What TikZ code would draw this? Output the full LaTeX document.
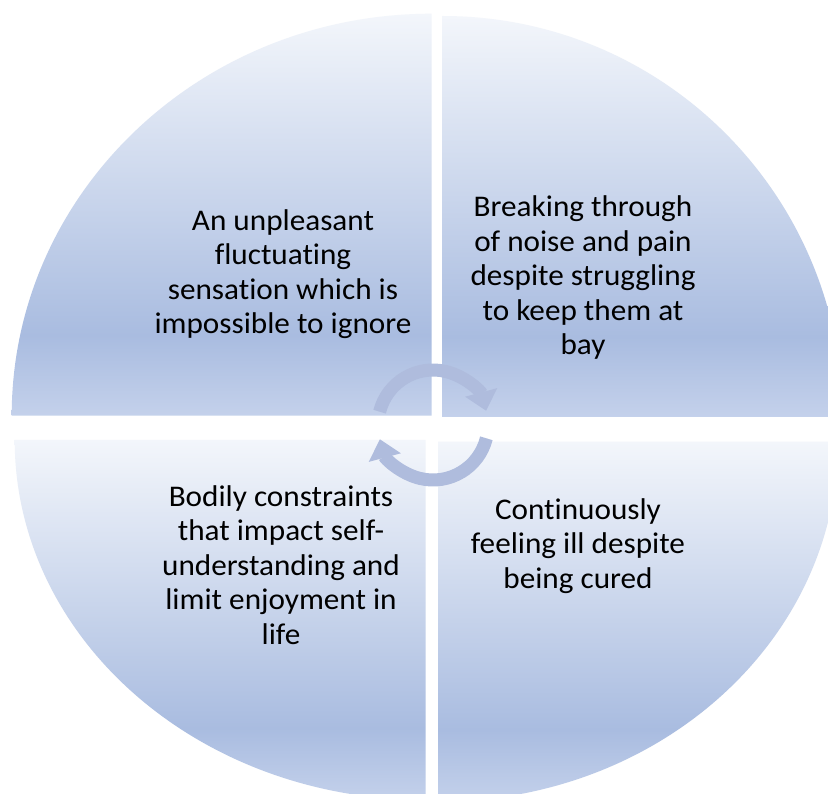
\documentclass[tikz,border=0pt]{standalone}
\usepackage{fontspec}
\setmainfont{Carlito}[Ligatures=NoCommon,FakeStretch=1.04]
\usetikzlibrary{arrows.meta}
\definecolor{quadLight}{HTML}{F3F6FB}
\definecolor{quadDark}{HTML}{A9BCE0}
\definecolor{quadEnd}{HTML}{C4D1EB}
\definecolor{cycleBlue}{HTML}{AFBCDD}
\pgfdeclareverticalshading{quadFill}{100bp}{color(0bp)=(quadEnd); color(25bp)=(quadEnd);
  color(35bp)=(quadDark); color(75bp)=(quadLight); color(100bp)=(quadLight)}

\begin{document}
\begin{tikzpicture}
[x=1pt,y=-1pt,%
  quadDecorate/.style={shading=quadFill,draw=none},%
  textDecorate/.style={align=center,inner sep=0pt,text=black,
    font=\fontsize{30}{34.5}\selectfont},%
  cycleDecorate/.style={draw=cycleBlue,line width=13pt,
    -{Triangle[width=32pt,length=19pt]}}]
\fill[white] (0,0) rectangle (828,794);
\useasboundingbox (0,0) rectangle (828,794);
\clip (0,0) rectangle (828,794);
%% quadrants
\foreach \cx/\cy/\rx/\ry/\sa in {
  431.7/415.7/420/402/180, 442.7/417/400/401/270,
  438/441.7/400/360/0, 425.7/440/411/360/90}
{
  \path[quadDecorate] (\cx,\cy) -- +(\sa:{\rx} and {\ry})
    arc[start angle=\sa, delta angle=90, x radius=\rx, y radius=\ry] -- cycle;
}
%% texts
\node (unpleasant) at (283,274) [textDecorate]
  {An unpleasant\\fluctuating\\sensation which is\\impossible to ignore};
\node (breaking) at (583,278) [textDecorate]
  {Breaking through\\of noise and pain\\despite struggling\\to keep them at\\bay};
\node (bodily) at (281,565) [textDecorate]
  {Bodily constraints\\that impact self-\\understanding and\\limit enjoyment in\\life};
\node (feeling) at (578,546) [textDecorate]
  {Continuously\\feeling ill despite\\being cured};
%% cycle arrows
\coordinate (hub) at (433,425);
\draw[cycleDecorate] ([shift={(194:55)}]hub) arc[start angle=194, end angle=345, radius=55];
\draw[cycleDecorate] ([shift={(14:55)}]hub) arc[start angle=14, end angle=165, radius=55];
\end{tikzpicture}
\end{document}
